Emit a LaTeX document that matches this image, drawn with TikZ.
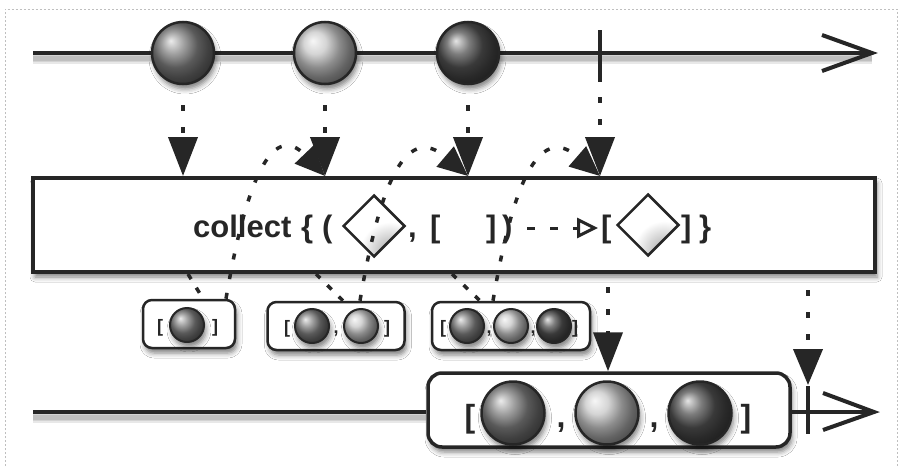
\documentclass[tikz,border=0pt]{standalone}
\usepackage{fontspec}
\setmainfont{Liberation Sans}
\usetikzlibrary{arrows.meta,shapes.geometric,shadows.blur,calc}
\begin{document}
\begin{tikzpicture}[x=1pt,y=-1pt,
  tl/.style={line width=4pt, draw=black!85, line join=miter},
  tlshadow/.style={line width=#1, draw=black, opacity=0.09},
  myshadow/.style={blur shadow={shadow xshift=2pt, shadow yshift=-5pt, shadow blur radius=5pt, shadow opacity=50}},
  marble/.style={circle, draw=black!85, line width=2.5pt, minimum size=#1, inner sep=0pt, myshadow},
  mA/.style={ball color=black!50},
  mB/.style={ball color=black!22},
  mC/.style={ball color=black!68},
  cbox/.style={draw=black!85, line width=4pt, fill=white, inner sep=0pt, myshadow},
  rbox/.style={draw=black!85, line width=2.5pt, fill=white, rounded corners=9pt, inner sep=0pt, myshadow},
  gem/.style={diamond, draw=black!85, line width=2.5pt, minimum width=62pt, minimum height=62pt, inner sep=0pt,
     shading=radial, inner color=black!30, outer color=white},
  dotarrow/.style={line width=4pt, draw=black!85, dash pattern=on 6pt off 16pt, -{Triangle[length=39pt,width=29pt]}},
  curvearrow/.style={line width=3.5pt, draw=black!85, dash pattern=on 6pt off 14pt, -{Triangle[length=30pt,width=26pt]}},
  downdash/.style={line width=3.5pt, draw=black!85, dash pattern=on 6pt off 10pt},
  big/.style={font=\bfseries\fontsize{31}{31}\selectfont, text=black!85, inner sep=0pt, anchor=base west},
  mid/.style={font=\bfseries\fontsize{32}{32}\selectfont, text=black!85, inner sep=0pt, anchor=base},
  small/.style={font=\bfseries\fontsize{18}{18}\selectfont, text=black!85, inner sep=0pt, anchor=base}
]
\useasboundingbox (0,0) rectangle (902,466);
\fill[white] (0,0) rectangle (902,466);
\draw[black!25, line width=1pt, dash pattern=on 2pt off 2pt] (5,466) -- (5,9) -- (897,9) -- (897,466);

% ---------- top timeline ----------
\coordinate (tA) at (33,53);
\coordinate (tB) at (872,53);
\foreach \w in {12pt,8pt,5pt}{\draw[tlshadow=\w] ($(tA)+(0,5)$) -- ($(tB)+(0,5)$);}
\draw[tl] (tA) -- (tB);
\draw[tl] (822,35) -- (tB) -- (822,71);
\coordinate (tick) at (600,53);
\draw[tl] (600,30) -- (600,82);

\node[marble=62pt, mA] (b1) at (183,53) {};
\node[marble=62pt, mB] (b2) at (325,53) {};
\node[marble=62pt, mC] (b3) at (468,53) {};

% ---------- collect box ----------
\node[cbox, minimum width=842pt, minimum height=94pt] (box) at (454,225) {};

\node[big] (tcollect) at (193,237) {collect};
\node[big] (tbrace) at (301,237) {\{};
\node[big] (tpar) at (322,237) {(};
\begin{scope}
\clip (374,195) -- (405,226) -- (374,257) -- (343,226) -- cycle;
\shade[shading=radial, inner color=black!35, outer color=white] (390,252) circle (30pt);
\end{scope}
\node[diamond, draw=black!85, line width=2.5pt, minimum width=62pt, minimum height=62pt, inner sep=0pt] (g1) at (374,226) {};
\node[big] (tcomma) at (408,237) {,};
\node[big] (tlb) at (430,237) {[};
\node[big] (trb) at (486,237) {]};
\node[big] (trp) at (502,237) {)};
\coordinate (dA) at (527,228);
\coordinate (dB) at (598,228);
\draw[line width=3pt, draw=black!85, dash pattern=on 8pt off 15pt, -{Triangle[open, length=21pt, width=20pt, line width=3pt]}] (dA) -- (dB);
\node[big] (tlb2) at (601,237) {[};
\begin{scope}
\clip (648,194) -- (679,225) -- (648,256) -- (617,225) -- cycle;
\shade[shading=radial, inner color=black!35, outer color=white] (664,251) circle (30pt);
\end{scope}
\node[diamond, draw=black!85, line width=2.5pt, minimum width=62pt, minimum height=62pt, inner sep=0pt] (g2) at (648,225) {};
\node[big] (trb2) at (681,237) {]};
\node[big] (trbrace) at (699,237) {\}};

% ---------- top arrows ----------
\draw[dotarrow] ($(b1.south)+(0,20)$) -- (b1 |- box.north);
\draw[dotarrow] ($(b2.south)+(0,20)$) -- (b2 |- box.north);
\draw[dotarrow] ($(b3.south)+(0,20)$) -- (b3 |- box.north);
\draw[dotarrow] ($(tick)+(0,44)$) -- (tick |- box.north);

% ---------- intermediate results ----------
\node[rbox, minimum width=92pt, minimum height=48pt] (r1) at (189,324) {};
\node[marble=34pt, mA, line width=2pt] (r1a) at (187,325) {};
\node[small] at (160,332) {[};
\node[small] at (215,332) {]};

\node[rbox, minimum width=137pt, minimum height=48pt] (r2) at (336,326) {};
\node[marble=34pt, mA, line width=2pt] (r2a) at (312,326) {};
\node[marble=34pt, mB, line width=2pt] (r2b) at (361,326) {};
\node[small] at (287,333) {[};
\node[small] at (336,333) {,};
\node[small] at (387,333) {]};

\node[rbox, minimum width=158pt, minimum height=48pt] (r3) at (511,326) {};
\node[marble=34pt, mA, line width=2pt] (r3a) at (467,326) {};
\node[marble=34pt, mB, line width=2pt] (r3b) at (511,326) {};
\node[marble=34pt, mC, line width=2pt] (r3c) at (554,326) {};
\node[small] at (443,333) {[};
\node[small] at (489,333) {,};
\node[small] at (533,333) {,};
\node[small] at (575,333) {]};

% ---------- loops ----------
\coordinate (d1s) at (188,274);
\coordinate (d2s) at (316,274);
\coordinate (d3s) at (452,274);
\draw[downdash] (d1s) -- ($(r1.north)+(14,0)$);
\draw[downdash] (d2s) -- ($(r2.north)+(7,0)$);
\draw[downdash] (d3s) -- ($(r3.north)+(-31,0)$);

\coordinate (u1) at ($(r1.north)+(37,0)$);
\coordinate (u2) at ($(r2.north)+(24,0)$);
\coordinate (u3) at ($(r3.north)+(-18,0)$);
\draw[curvearrow] (u1) .. controls ($(u1)+(22,-130)$) and ($(u1)+(49,-175)$) .. (b2 |- box.north);
\draw[curvearrow] (u2) .. controls ($(u2)+(22,-130)$) and ($(u2)+(49,-175)$) .. (b3 |- box.north);
\draw[curvearrow] (u3) .. controls ($(u3)+(22,-130)$) and ($(u3)+(49,-175)$) .. (tick |- box.north);

% ---------- bottom timeline ----------
\node[rbox, minimum width=362pt, minimum height=74pt, line width=3.5pt, rounded corners=14pt] (res) at (609,410) {};
\coordinate (bA) at (33,412);
\coordinate (bB) at (874,412);
\foreach \w in {12pt,8pt,5pt}{\draw[tlshadow=\w] ($(bA)+(0,5)$) -- ($(res.west)+(0,7)$);}
\draw[tl] (bA) -- (res.west |- bA);
\draw[tl] (res.east |- bB) -- (bB);
\draw[tl] (823,393) -- (bB) -- (823,430);
\coordinate (etick) at (808,412);
\draw[tl] (808,386) -- (808,434);

\node[marble=63pt, mA] (f1) at (513,413) {};
\node[marble=63pt, mB] (f2) at (607,413) {};
\node[marble=63pt, mC] (f3) at (700,413) {};
\node[mid] at (470,427) {[};
\node[mid] at (561,427) {,};
\node[mid] at (654,427) {,};
\node[mid] at (746,427) {]};

% ---------- final arrows ----------
\coordinate (fa) at (608,287);
\coordinate (fb) at (808,290);
\draw[dotarrow] (fa) -- (fa |- res.north);
\draw[dotarrow, -{Triangle[length=36pt,width=29pt]}] (fb) -- ($(etick)+(0,-27)$);
\end{tikzpicture}
\end{document}
